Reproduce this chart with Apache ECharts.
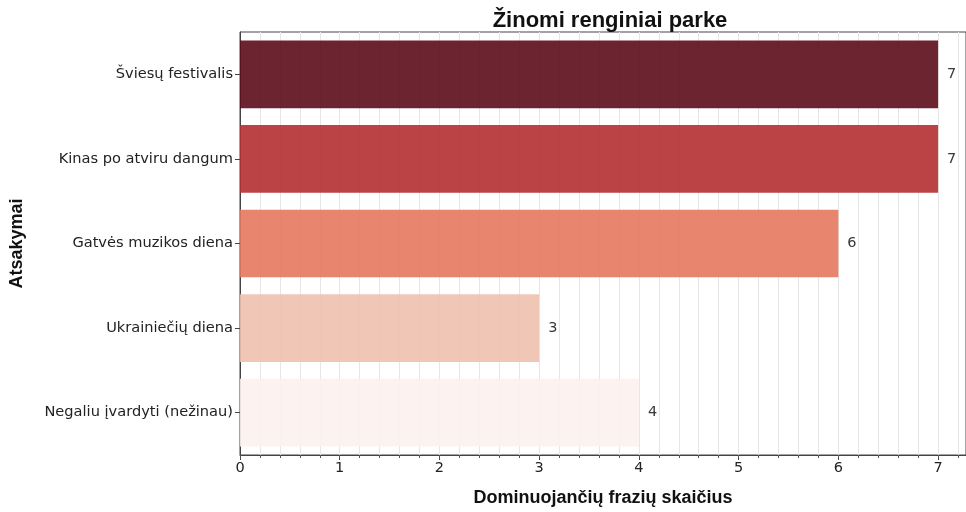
<!DOCTYPE html>
<html>
<head>
<meta charset="utf-8">
<script src="https://cdn.jsdelivr.net/npm/echarts@6/dist/echarts.min.js"></script>
<style>
	html, body { margin: 0; padding: 0; background: #fff; }
	#chart { width: 966px; height: 512px; }
</style>
</head>
<body>
<div id="chart"></div>
<script>
// duomenys
const categories = ["Šviesų festivalis", "Kinas po atviru dangum", "Gatvės muzikos diena", "Ukrainiečių diena", "Negaliu įvardyti (nežinau)"];
const values = [7, 7, 6, 3, 4];
const barColors = ["#5c0c19", "#b42f32", "#e5785f", "#eec0ae", "#fcf2ee"];
const xTickLabels = ["0", "1", "2", "3", "4", "5", "6", "7"];

const font = "DejaVu Sans";
const boldFont = "Liberation Sans";
const xMax = 7.28;

const chart = echarts.init(document.getElementById("chart"));
const option = {
	animation: false,
	title: {
		text: "Žinomi renginiai parke",
		left: 605,
		textAlign: "center",
		top: 5,
		textStyle: { fontFamily: boldFont, fontSize: 22, fontWeight: "bold", color: "#111" }
	},
	grid: {
		left: 240,
		right: 0,
		top: 32,
		bottom: 54,
		show: true,
		borderColor: "#444",
		borderWidth: 1
	},
	xAxis: [
		{
			type: "value",
			min: 0,
			max: xMax,
			interval: 1,
			position: "bottom",
			name: "Dominuojančių frazių skaičius",
			nameLocation: "middle",
			nameGap: 34,
			nameTextStyle: { fontFamily: boldFont, fontSize: 18, fontWeight: "bold", color: "#111" },
			axisLine: { show: true, lineStyle: { color: "#444" } },
			axisTick: { show: true, length: 5, lineStyle: { color: "#444" } },
			axisLabel: {
				fontFamily: font, fontSize: 14.5, color: "#222", margin: 6,
				showMaxLabel: false,
				formatter: v => (Number.isInteger(v) ? xTickLabels[v] : "")
			},
			splitLine: { show: true, lineStyle: { color: "#5e5e5e", width: 1 } }
		},
		{
			type: "value",
			min: 0,
			max: xMax,
			interval: 0.2,
			position: "bottom",
			axisLine: { show: false },
			axisTick: { show: true, length: 3, lineStyle: { color: "#555" } },
			axisLabel: { show: false },
			splitLine: { show: true, lineStyle: { color: "#e6e6e6", width: 1 } }
		}
	],
	yAxis: {
		type: "category",
		inverse: true,
		data: categories,
		name: "Atsakymai",
		nameLocation: "middle",
		nameRotate: 90,
		nameGap: 214,
		nameTextStyle: { fontFamily: boldFont, fontSize: 18, fontWeight: "bold", color: "#111" },
		axisLine: { show: true, lineStyle: { color: "#444" } },
		axisTick: { show: true, length: 5, alignWithLabel: true, lineStyle: { color: "#444" } },
		axisLabel: { fontFamily: font, fontSize: 14.6, color: "#222", margin: 7 }
	},
	series: [
		{
			type: "bar",
			xAxisIndex: 0,
			barWidth: "80%",
			data: values.map((v, i) => ({
				value: v,
				itemStyle: { color: barColors[i], opacity: 0.9 }
			})),
			label: {
				show: true,
				position: "right",
				distance: 9,
				fontFamily: font,
				fontSize: 14.5,
				color: "#222"
			}
		}
	]
};
chart.setOption(option);
</script>
</body>
</html>
